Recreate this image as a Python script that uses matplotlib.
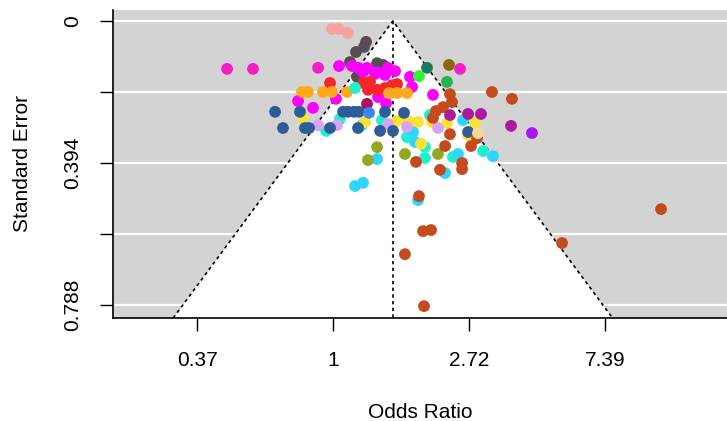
import numpy as np
import matplotlib
matplotlib.use("Agg")
import matplotlib.pyplot as plt

# -------------------------
# data: log odds ratio, standard error, group of each study
# -------------------------
log_or = [
    -0.007, 0.044, 0.110,                                   # salmon
    0.243, 0.228, 0.169, 0.125, 0.176, 0.324, 0.368,        # darkgray
    -0.779, -0.588, -0.110, 0.934,                          # hotpink
    -0.257, -0.147, 0.022, 0.044, 0.140, 0.184, 0.250, 0.221, 0.324,
    0.309, 0.382, 0.404, 0.456, 0.566, 0.581, 0.390, 0.735, 0.331,  # magenta
    -0.022, 0.272, 0.257, 0.324, 0.382, 0.434, 0.471, 0.404, 0.221,  # red
    -0.228, -0.184, -0.074, -0.007, 0.103, 0.412, 0.471, 0.544,     # orange
    0.250,                                                  # crimson
    0.162, -0.051, 0.051, 0.360, 0.544, 0.676, 0.676, 0.713, 0.882,
    1.103, 0.574, 0.213,                                    # turquoise
    0.324, 0.162, 0.221, 0.824, 0.919, 1.176, 0.588, 0.603, 0.625, 0.956,  # cyan
    -0.221, 0.235, 0.471, 0.522, 0.625, 0.728, 0.647, 0.838, 0.993,
    1.044, 0.566,                                           # yellow
    -0.110, 0.029, 0.404, 0.544, 0.772,                     # lavender
    -0.426, -0.368, -0.243, -0.206, -0.176, -0.022, 0.074, 0.110, 0.154,
    0.191, 0.184, 0.346, 0.441, 0.382, 0.522, 0.993,        # darkblue
    0.265,                                                  # dodgerblue
    0.324, 0.257, 0.529, 0.772,                             # olive
    2.412, 1.684, 0.529, 0.669, 0.632, 0.662, 0.721, 1.169, 1.316, 0.860,
    0.875, 0.809, 0.757, 0.735, 0.860, 0.824, 1.015, 0.610, 0.949, 0.949,
    0.787, 1.059,                                           # rust
    0.860, 0.993, 1.088, 1.309,                             # purple
    1.463,                                                  # violet
    0.691, 0.632, 0.838, 0.853, 1.066,                      # teal, lime, green, brown, wheat
]
se = [
    0.022, 0.022, 0.033,
    0.058, 0.072, 0.086, 0.114, 0.155, 0.117, 0.122,
    0.133, 0.133, 0.130, 0.133,
    0.222, 0.241, 0.216, 0.125, 0.125, 0.130, 0.130, 0.142, 0.142,
    0.147, 0.150, 0.130, 0.139, 0.155, 0.183, 0.228, 0.205, 0.211,
    0.172, 0.169, 0.191, 0.191, 0.186, 0.178, 0.175, 0.197, 0.172,
    0.197, 0.197, 0.197, 0.197, 0.197, 0.200, 0.200, 0.200,
    0.230,
    0.186, 0.305, 0.272, 0.275, 0.322, 0.350, 0.380, 0.261, 0.377,
    0.361, 0.297, 0.289,
    0.383, 0.458, 0.449, 0.422, 0.369, 0.375, 0.308, 0.336, 0.497, 0.275,
    0.269, 0.280, 0.277, 0.275, 0.280, 0.280, 0.341, 0.283, 0.316,
    0.283, 0.280,
    0.289, 0.289, 0.286, 0.294, 0.297,
    0.252, 0.297, 0.252, 0.297, 0.297, 0.297, 0.252, 0.252, 0.252,
    0.252, 0.297, 0.305, 0.305, 0.252, 0.255, 0.308,
    0.255,
    0.350, 0.386, 0.369, 0.369,
    0.522, 0.616, 0.647, 0.791, 0.486, 0.583, 0.580, 0.197, 0.216, 0.203,
    0.225, 0.239, 0.250, 0.269, 0.314, 0.347, 0.347, 0.391, 0.394, 0.411,
    0.413, 0.325,
    0.261, 0.258, 0.258, 0.291,
    0.311,
    0.130, 0.153, 0.169, 0.122, 0.311,
]
group = (["salmon"] * 3 + ["darkgray"] * 7 + ["hotpink"] * 4 + ["magenta"] * 18
         + ["red"] * 9 + ["orange"] * 8 + ["crimson"] + ["turquoise"] * 12
         + ["cyan"] * 10 + ["yellow"] * 11 + ["lavender"] * 5 + ["darkblue"] * 16
         + ["dodgerblue"] + ["olive"] * 4 + ["rust"] * 22 + ["purple"] * 4
         + ["violet", "teal", "lime", "green", "brown", "wheat"])

palette = {
    "salmon": "#F8A19F", "darkgray": "#574C52", "hotpink": "#F51FC8",
    "magenta": "#FF00FF", "red": "#F4262A", "orange": "#FFA81C",
    "crimson": "#AF0E62", "turquoise": "#1CF2CC", "cyan": "#2ED5FF",
    "yellow": "#F9E231", "lavender": "#D9A3F5", "darkblue": "#2F5C99",
    "dodgerblue": "#3A86F8", "olive": "#93A81E", "rust": "#C54A1E",
    "purple": "#AC1A9E", "violet": "#A817F0", "teal": "#207B5A",
    "lime": "#31F433", "green": "#22B651", "brown": "#89680F", "wheat": "#F2D89F",
}

pooled = 0.44            # pooled log odds ratio
se_ticks = [0, 0.197, 0.394, 0.591, 0.788]
se_labels = ["0", "", "0.394", "", "0.788"]
or_ticks = [-1, 0, 1, 2]
or_labels = ["0.37", "1", "2.72", "7.39"]

# -------------------------
# plot
# -------------------------
plt.rcParams['font.family'] = ['Liberation Sans', 'DejaVu Sans']
fig = plt.figure(figsize=(7.27, 4.21), dpi=100)
ax = fig.add_axes([0.1554, 0.2447, 0.8446, 0.7316])

ylo, yhi = 0.824, -0.0305
ax.set_xlim(-1.618, 2.897)
ax.set_ylim(ylo, yhi)
ax.set_facecolor("#D3D3D3")

for t in se_ticks:
    ax.axhline(t, color="white", lw=1.6, zorder=1)

# funnel region
fx = [pooled - 1.96 * ylo, pooled, pooled + 1.96 * ylo]
fy = [ylo, 0, ylo]
ax.fill(fx, fy, color="white", zorder=2, lw=0)
ax.plot(fx, fy, color="black", ls=(0, (2, 2)), lw=1.2, zorder=3)
ax.plot([pooled, pooled], [0, ylo], color="black", ls=(0, (2, 2)), lw=1.2, zorder=3)

cols = [palette[g] for g in group]
ax.scatter(log_or, se, c=cols, s=72, linewidths=0, zorder=4)

ax.set_xticks(or_ticks)
ax.set_xticklabels(or_labels)
ax.set_yticks(se_ticks)
ax.set_yticklabels(se_labels, rotation=90, va="center")
ax.tick_params(axis="both", length=9.5, width=1, labelsize=15)
ax.tick_params(axis="x", pad=14)
ax.tick_params(axis="y", pad=13)

for s in ["top", "right"]:
    ax.spines[s].set_visible(False)
ax.spines["left"].set_linewidth(1.2)
ax.spines["bottom"].set_linewidth(1.2)

ax.set_xlabel("Odds Ratio", fontsize=15, labelpad=24)
ax.set_ylabel("Standard Error", fontsize=15, labelpad=22)

fig.savefig("out.png", dpi=100)
